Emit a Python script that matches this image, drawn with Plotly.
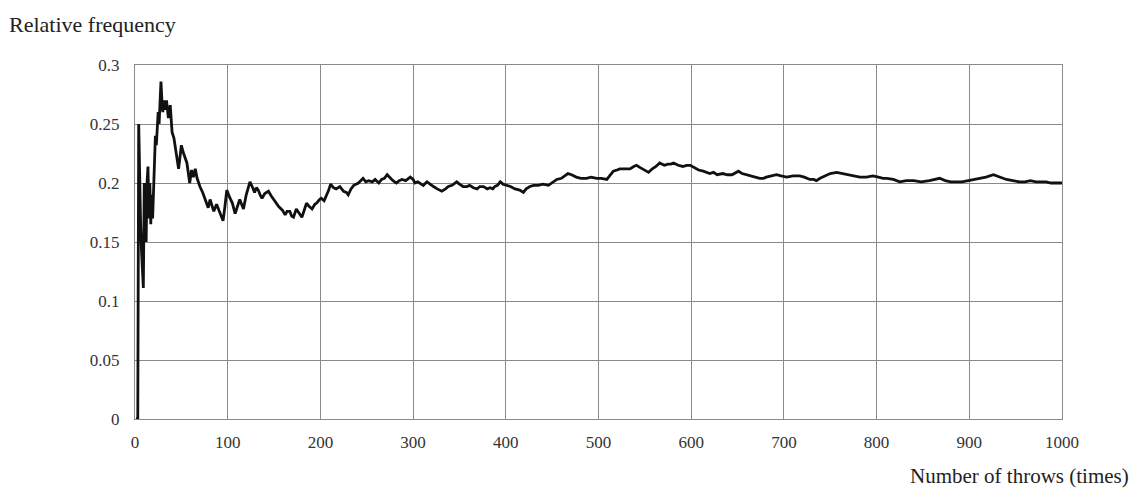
import plotly.graph_objects as go

throws = [
    1, 2, 3, 4, 5, 6, 7, 8, 9, 10,
    11, 12, 13, 14, 15, 16, 17, 18, 19, 20,
    21, 22, 23, 24, 25, 26, 27, 28, 29, 30,
    31, 32, 34, 36, 38, 40, 42, 44, 45, 47,
    49, 50, 52, 54, 56, 59, 61, 63, 65, 67,
    70, 73, 76, 79, 81, 83, 85, 88, 91, 93,
    95, 97, 99, 102, 105, 108, 111, 113, 115, 117,
    120, 124, 127, 129, 131, 133, 135, 137, 140, 144,
    147, 151, 155, 159, 162, 164, 167, 169, 171, 174,
    177, 180, 183, 185, 188, 191, 194, 196, 199, 201,
    204, 207, 209, 211, 214, 217, 221, 225, 228, 230,
    233, 236, 241, 246, 249, 252, 256, 259, 263, 266,
    269, 272, 275, 277, 280, 282, 285, 288, 292, 297,
    300, 302, 305, 307, 311, 315, 318, 322, 326, 331,
    335, 338, 342, 347, 350, 354, 358, 361, 365, 369,
    372, 376, 380, 383, 386, 388, 391, 394, 397, 401,
    405, 410, 415, 419, 422, 426, 430, 435, 440, 446,
    450, 455, 460, 464, 467, 471, 476, 481, 487, 492,
    498, 503, 509, 512, 516, 520, 523, 528, 534, 538,
    541, 545, 549, 554, 558, 562, 566, 571, 575, 578,
    581, 586, 591, 595, 599, 604, 608, 613, 617, 620,
    624, 628, 634, 639, 644, 648, 651, 655, 659, 664,
    669, 674, 678, 681, 686, 692, 697, 703, 710, 717,
    722, 728, 732, 735, 739, 744, 750, 757, 763, 768,
    775, 782, 789, 796, 802, 807, 811, 818, 825, 832,
    840, 848, 857, 863, 868, 874, 880, 886, 892, 899,
    905, 911, 918, 926, 933, 940, 947, 954, 960, 966,
    972, 977, 983, 988, 993, 998, 1000,
]

rel_freq = [
    0, 0, 0, 0.25, 0.2, 0.167, 0.143, 0.125, 0.111, 0.2,
    0.182, 0.15, 0.2, 0.214, 0.17, 0.2, 0.165, 0.19, 0.17, 0.2,
    0.22, 0.24, 0.232, 0.25, 0.26, 0.25, 0.27, 0.286, 0.27, 0.26,
    0.27, 0.262, 0.27, 0.255, 0.266, 0.243, 0.238, 0.228, 0.222, 0.212,
    0.225, 0.232, 0.226, 0.222, 0.217, 0.2, 0.211, 0.205, 0.212, 0.204,
    0.197, 0.192, 0.186, 0.179, 0.186, 0.181, 0.176, 0.182, 0.176, 0.172,
    0.168, 0.18, 0.194, 0.188, 0.183, 0.174, 0.181, 0.186, 0.182, 0.178,
    0.19, 0.201, 0.196, 0.192, 0.196, 0.194, 0.19, 0.187, 0.191, 0.193,
    0.189, 0.184, 0.18, 0.177, 0.173, 0.176, 0.176, 0.172, 0.171, 0.178,
    0.175, 0.171, 0.178, 0.183, 0.18, 0.178, 0.182, 0.183, 0.186, 0.187,
    0.185, 0.19, 0.194, 0.199, 0.196, 0.195, 0.197, 0.193, 0.192, 0.19,
    0.195, 0.198, 0.2, 0.204, 0.201, 0.202, 0.201, 0.203, 0.2, 0.203,
    0.204, 0.207, 0.204, 0.203, 0.201, 0.2, 0.202, 0.203, 0.202, 0.205,
    0.203, 0.2, 0.201, 0.2, 0.198, 0.201, 0.199, 0.197, 0.195, 0.193,
    0.195, 0.197, 0.198, 0.201, 0.199, 0.197, 0.197, 0.198, 0.196, 0.195,
    0.197, 0.197, 0.195, 0.196, 0.195, 0.197, 0.198, 0.201, 0.199, 0.198,
    0.197, 0.195, 0.194, 0.192, 0.195, 0.197, 0.198, 0.198, 0.199, 0.198,
    0.2, 0.203, 0.204, 0.206, 0.208, 0.207, 0.205, 0.204, 0.204, 0.205,
    0.204, 0.204, 0.203, 0.206, 0.21, 0.211, 0.212, 0.212, 0.212, 0.214,
    0.215, 0.213, 0.211, 0.209, 0.212, 0.214, 0.217, 0.215, 0.216, 0.216,
    0.217, 0.215, 0.214, 0.215, 0.215, 0.213, 0.211, 0.21, 0.209, 0.208,
    0.209, 0.207, 0.208, 0.207, 0.207, 0.209, 0.21, 0.208, 0.207, 0.206,
    0.205, 0.204, 0.204, 0.205, 0.206, 0.207, 0.206, 0.205, 0.206, 0.206,
    0.205, 0.203, 0.203, 0.202, 0.204, 0.206, 0.208, 0.209, 0.208, 0.207,
    0.206, 0.205, 0.205, 0.206, 0.205, 0.204, 0.204, 0.203, 0.201, 0.202,
    0.202, 0.201, 0.202, 0.203, 0.204, 0.202, 0.201, 0.201, 0.201, 0.202,
    0.203, 0.204, 0.205, 0.207, 0.205, 0.203, 0.202, 0.201, 0.201, 0.202,
    0.201, 0.201, 0.201, 0.2, 0.2, 0.2, 0.2,
]

assert len(throws) == len(rel_freq)

y_title = "Relative frequency"
x_title = "Number of throws (times)"

# page has an 8px body margin; figure sized to fit the 1137x492 window
OFF = 8
W, H = 1137 - OFF, 492 - OFF
PL, PT, PR, PB = 135, 65, 1062, 419      # plot area in page pixels
pw, ph = PR - PL, PB - PT
L, T = PL - OFF, PT - OFF
R, B = W - L - pw, H - T - ph

FONT = "Liberation Serif, Times New Roman, serif"

fig = go.Figure()
fig.add_trace(go.Scatter(
    x=throws, y=rel_freq, mode="lines",
    line=dict(color="#111111", width=2.8),
    hoverinfo="skip", showlegend=False,
))

axis_common = dict(
    showgrid=True, gridcolor="#8a8a8a", gridwidth=1,
    showline=True, linecolor="#8a8a8a", linewidth=1, mirror=True,
    zeroline=False, ticks="",
    tickfont=dict(family=FONT, size=17, color="#333333"),
)

fig.update_xaxes(range=[0, 1000], dtick=100, tick0=0, ticklabelstandoff=8, **axis_common)
fig.update_yaxes(range=[0, 0.3], dtick=0.05, tick0=0, ticklabelstandoff=11, **axis_common)


def px_x(x):
    return (x - PL) / pw


def px_y(y):
    return (PB - y) / ph


fig.add_annotation(
    text=y_title, xref="paper", yref="paper",
    x=px_x(7), y=px_y(25),
    xanchor="left", yanchor="middle", showarrow=False,
    font=dict(family=FONT, size=22, color="#222222"),
)
fig.add_annotation(
    text=x_title, xref="paper", yref="paper",
    x=px_x(1131), y=px_y(490),
    xanchor="right", yanchor="bottom", showarrow=False,
    font=dict(family=FONT, size=21, color="#222222"),
)

fig.update_layout(
    width=W, height=H,
    margin=dict(l=L, r=R, t=T, b=B),
    paper_bgcolor="white", plot_bgcolor="white",
)

fig.write_html("out.html")
